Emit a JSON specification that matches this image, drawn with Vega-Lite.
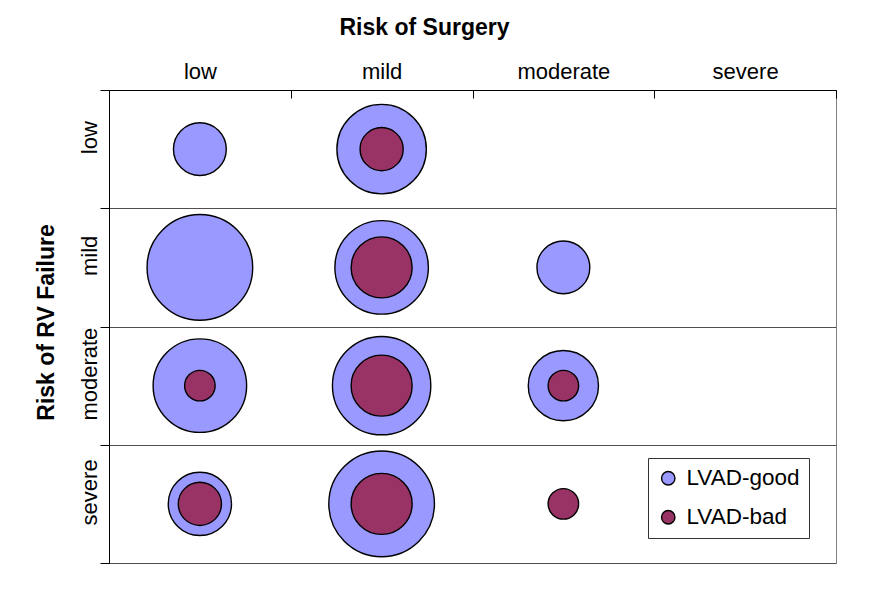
{
  "$schema": "https://vega.github.io/schema/vega-lite/v6.json",
  "width": 727,
  "height": 473,
  "autosize": "none",
  "padding": {"left": 109, "top": 90, "right": 44, "bottom": 30},
  "background": "white",
  "config": {
    "font": "Liberation Sans",
    "view": {"stroke": "#808080", "strokeWidth": 1}
  },
  "data": {
    "values": [
      {"surgery": "low", "rv": "low", "series": "LVAD-good", "value": 3, "ord": 1},
      {"surgery": "mild", "rv": "low", "series": "LVAD-good", "value": 8.6, "ord": 1},
      {"surgery": "low", "rv": "mild", "series": "LVAD-good", "value": 12, "ord": 1},
      {"surgery": "mild", "rv": "mild", "series": "LVAD-good", "value": 9.4, "ord": 1},
      {"surgery": "moderate", "rv": "mild", "series": "LVAD-good", "value": 3, "ord": 1},
      {"surgery": "low", "rv": "moderate", "series": "LVAD-good", "value": 9.4, "ord": 1},
      {"surgery": "mild", "rv": "moderate", "series": "LVAD-good", "value": 10.4, "ord": 1},
      {"surgery": "moderate", "rv": "moderate", "series": "LVAD-good", "value": 5.3, "ord": 1},
      {"surgery": "low", "rv": "severe", "series": "LVAD-good", "value": 4.3, "ord": 1},
      {"surgery": "mild", "rv": "severe", "series": "LVAD-good", "value": 12, "ord": 1},
      {"surgery": "mild", "rv": "low", "series": "LVAD-bad", "value": 2, "ord": 2},
      {"surgery": "mild", "rv": "mild", "series": "LVAD-bad", "value": 4, "ord": 2},
      {"surgery": "low", "rv": "moderate", "series": "LVAD-bad", "value": 1, "ord": 2},
      {"surgery": "mild", "rv": "moderate", "series": "LVAD-bad", "value": 4, "ord": 2},
      {"surgery": "moderate", "rv": "moderate", "series": "LVAD-bad", "value": 1, "ord": 2},
      {"surgery": "low", "rv": "severe", "series": "LVAD-bad", "value": 2, "ord": 2},
      {"surgery": "mild", "rv": "severe", "series": "LVAD-bad", "value": 4, "ord": 2},
      {"surgery": "moderate", "rv": "severe", "series": "LVAD-bad", "value": 1, "ord": 2}
    ]
  },
  "mark": {"type": "circle", "opacity": 1, "stroke": "black", "strokeWidth": 1.4},
  "encoding": {
    "x": {
      "field": "surgery",
      "type": "ordinal",
      "scale": {"type": "band", "domain": ["low", "mild", "moderate", "severe"], "paddingInner": 0, "paddingOuter": 0},
      "axis": {
        "orient": "top",
        "title": "Risk of Surgery",
        "titleFont": "Liberation Sans",
        "titleFontSize": 23,
        "titleFontWeight": "bold",
        "titleColor": "black",
        "titleX": 315,
        "titleY": -56,
        "titleAlign": "center",
        "titleBaseline": "alphabetic",
        "titleAnchor": null,
        "labelFont": "Liberation Sans",
        "labelFontSize": 22,
        "labelColor": "black",
        "labelAngle": 0,
        "labelPadding": 20,
        "labelBaseline": "alphabetic",
        "domainColor": "black",
        "domainWidth": 1,
        "tickColor": "black",
        "tickSize": -8,
        "tickBand": "extent",
        "grid": false
      }
    },
    "y": {
      "field": "rv",
      "type": "ordinal",
      "scale": {"type": "band", "domain": ["low", "mild", "moderate", "severe"], "paddingInner": 0, "paddingOuter": 0},
      "axis": {
        "orient": "left",
        "title": "Risk of RV Failure",
        "titleFont": "Liberation Sans",
        "titleFontSize": 23,
        "titleFontWeight": "bold",
        "titleColor": "black",
        "titleAngle": -90,
        "titleX": -56,
        "titleY": 232,
        "titleAlign": "center",
        "titleBaseline": "alphabetic",
        "titleAnchor": null,
        "labelFont": "Liberation Sans",
        "labelFontSize": 22,
        "labelColor": "black",
        "labelAngle": -90,
        "labelAlign": "center",
        "labelBaseline": "alphabetic",
        "labelPadding": 4,
        "labelOffset": -12,
        "domainColor": "black",
        "domainWidth": 1,
        "tickColor": "black",
        "tickSize": 9,
        "tickBand": "extent",
        "grid": true,
        "gridColor": "#505050",
        "gridWidth": 1
      }
    },
    "size": {
      "field": "value",
      "type": "quantitative",
      "scale": {"type": "linear", "zero": true, "domain": [0, 12], "range": [0, 11160]},
      "legend": null
    },
    "color": {
      "field": "series",
      "type": "nominal",
      "scale": {"domain": ["LVAD-good", "LVAD-bad"], "range": ["#9999FF", "#993366"]},
      "legend": {
        "title": null,
        "orient": "none",
        "legendX": 539,
        "legendY": 368,
        "padding": 9,
        "rowPadding": 16,
        "strokeColor": "#333333",
        "fillColor": "white",
        "symbolType": "circle",
        "symbolSize": 180,
        "symbolStrokeColor": "black",
        "symbolStrokeWidth": 1.4,
        "symbolOpacity": 1,
        "labelFont": "Liberation Sans",
        "labelFontSize": 22.5,
        "labelColor": "black",
        "labelOffset": 7,
        "labelLimit": 300
      }
    },
    "order": {"field": "ord", "type": "quantitative"}
  }
}
